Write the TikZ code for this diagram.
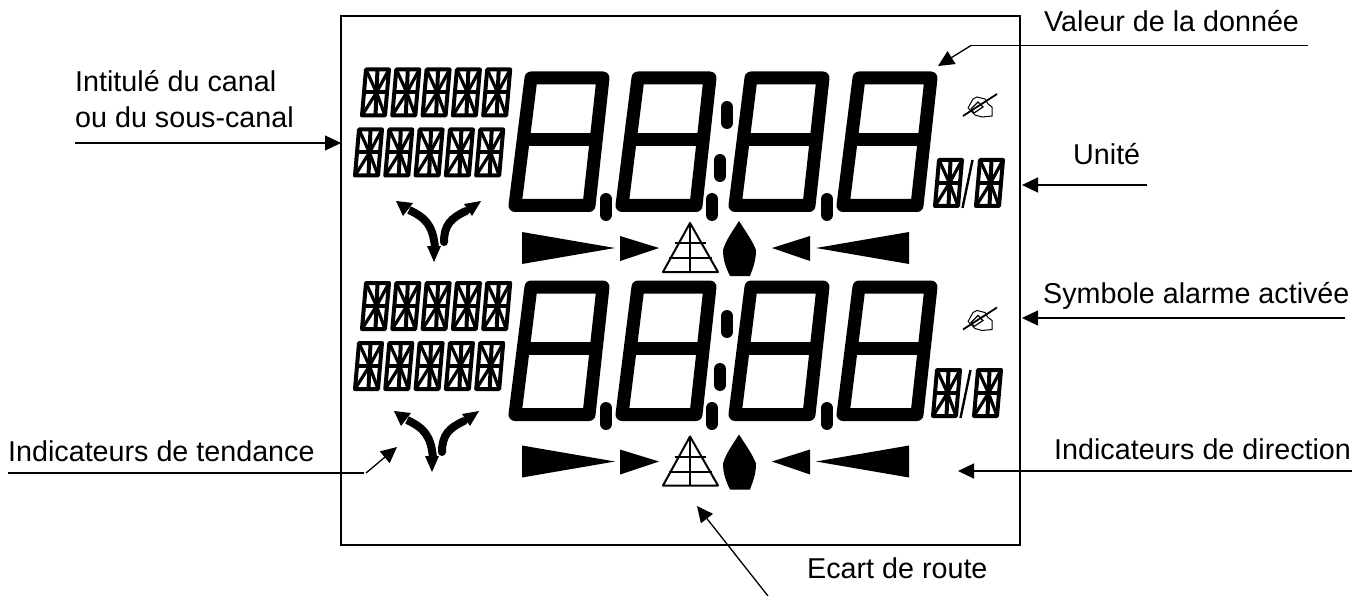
\documentclass[tikz,border=0pt]{standalone}
\usepackage{fontspec}
\setmainfont{Liberation Sans}
\usetikzlibrary{arrows.meta}
\tikzset{
  segbar/.style={line width=13pt,line join=round},
  alphaseg/.style={line width=4pt,line join=round},
  alphadiag/.style={line width=3.2pt},
  dotbar/.style={line width=12pt,line cap=round},
  wire/.style={line width=1.3pt},
  leader/.style={wire,-{Triangle[length=16pt,width=15pt]}},
  label/.style={anchor=base west,inner sep=0pt,font=\fontsize{28.7}{34}\selectfont},
  trend/.style={line width=8pt},
  bigdigit/.pic={
    \draw[segbar] (7,-6.5) -- (23,-134) -- (95,-134) -- (81,-6.5) -- cycle;
    \draw[segbar] (15,-72.5) -- (89,-72.5);
  },
  alphaglyph/.pic={
    \draw[alphaseg] (2,-2) -- (6,-48) -- (29,-48) -- (25,-2) -- cycle;
    \draw[alphaseg] (4,-25) -- (27,-25);
    \draw[alphaseg] (15.5,-2) -- (17.5,-48);
    \draw[alphadiag] (6,-48) -- (16.5,-25) -- (2,-2);
    \draw[alphadiag] (29,-48) -- (16.5,-25) -- (25,-2);
  },
  penicon/.pic={
    \draw[line width=1.8pt] (0,0) -- (34,-22);
    \draw[line width=1pt] (5,-8) -- (10,-17) -- (14,-19) -- (22,-17) -- (25,-12) -- (29,-9) -- (29,0) -- (19,1) -- (12,-1) -- (5,-8);
    \draw[line width=1.2pt] (8,-7) -- (15,-14) -- (20,-9) -- (11,-3) -- cycle;
  },
  trendicon/.pic={
    \fill (396,201) -- (413,203) -- (403,216) -- cycle;
    \fill (481,201) -- (464,204) -- (472,216) -- cycle;
    \fill (434,262) -- (427,246) -- (441,246) -- cycle;
    \draw[trend] (409,210) .. controls (424,217) and (433,224) .. (435,248);
    \draw[trend,line cap=round] (466,211) .. controls (451,218) and (444,225) .. (444,242);
  },
  steerbar/.pic={
    \fill (522,232) -- (615,248) -- (522,264) -- cycle;
    \fill (620,236) -- (659,248) -- (620,261) -- cycle;
    \draw[line width=2pt,line join=round] (690,223) -- (663,272) -- (718,272) -- cycle;
    \draw[line width=2pt] (690,223) -- (690,272);
    \draw[line width=2pt] (675,243) -- (706,243);
    \draw[line width=2pt] (669,258) -- (712,258);
    \fill (739,221) .. controls (746,232) and (752,240) .. (756,250) .. controls (756,262) and (752,270) .. (750,276) -- (730,276) .. controls (726,268) and (723,260) .. (723,250) .. controls (726,240) and (732,232) .. (739,221) -- cycle;
    \fill (772,248) -- (810,236) -- (810,261) -- cycle;
    \fill (816,248) -- (909,232) -- (909,264) -- cycle;
  },
}
\begin{document}
\begin{tikzpicture}[x=1pt,y=-1pt]
  \useasboundingbox (0,0) rectangle (1368,596);
  \draw[line width=2pt] (341,16) rectangle (1020,545);

  % big digits and their dots
  \foreach \r in {0,209}{
    \foreach \x in {508,615,728,836}
      \pic at (\x,212+\r) {bigdigit};
    \foreach \x/\y in {606/199,712/199,827/199,727/107,720/160}
      \draw[dotbar] (\x,\y+\r) -- (\x,\y+16+\r);
  }

  % channel titles, the second block sits lower
  \foreach \r in {0,213.5}{
    \foreach \n in {0,...,4}{
      \pic at (360+\n*30.3,117.5+\r) {alphaglyph};
      \pic at (353+\n*30.3,177.5+\r) {alphaglyph};
    }
    \pic at (963,116+\r) {penicon};
    \pic at (0,\r) {steerbar};
  }

  % units and trend arrows
  \foreach \s/\r in {0/0,-2/210}{
    \pic at (933+\s,208+\r) {alphaglyph};
    \pic at (974+\s,208+\r) {alphaglyph};
    \draw[line width=2.4pt] (962.5+\s,208+\r) -- (972.5+\s,160+\r);
    \pic at (\s,\r) {trendicon};
  }

  \node[label] (valeur) at (1044,32) {Valeur de la donnée};
  \node[label] (unite) at (1073,165) {Unité};
  \node[label] (symbole) at (1043,303) {Symbole alarme activée};
  \node[label] (direction) at (1054,459) {Indicateurs de direction};
  \node[label] (tendance) at (8,461) {Indicateurs de tendance};
  \node[label] (ecart) at (807,578) {Ecart de route};
  \node[label] (intitule) at (75,92) {Intitulé du canal};
  \node[label] (canal) at (75,128) {ou du sous-canal};

  \coordinate (valeurE) at (1308,45.5);
  \coordinate (valeurB) at (971,45.5);
  \coordinate (valeurT) at (938,66);
  \draw[wire] (valeurE) -- (valeurB);
  \draw[leader] (valeurB) -- (valeurT);
  \coordinate (uniteE) at (1147,185);
  \coordinate (uniteT) at (1022,185);
  \draw[leader] (uniteE) -- (uniteT);
  \coordinate (symboleE) at (1345,318);
  \coordinate (symboleT) at (1022,318);
  \draw[leader] (symboleE) -- (symboleT);
  \coordinate (directionE) at (1352,471);
  \coordinate (directionT) at (958,471);
  \draw[leader] (directionE) -- (directionT);
  \coordinate (tendanceE) at (8,473);
  \coordinate (tendanceB) at (364,473);
  \coordinate (tendanceF) at (366,473);
  \coordinate (tendanceT) at (397,447);
  \draw[wire] (tendanceE) -- (tendanceB);
  \draw[leader] (tendanceF) -- (tendanceT);
  \coordinate (ecartE) at (768,596);
  \coordinate (ecartT) at (697,506);
  \draw[leader] (ecartE) -- (ecartT);
  \coordinate (canalE) at (75,143);
  \coordinate (canalT) at (341,143);
  \draw[leader] (canalE) -- (canalT);
\end{tikzpicture}
\end{document}
